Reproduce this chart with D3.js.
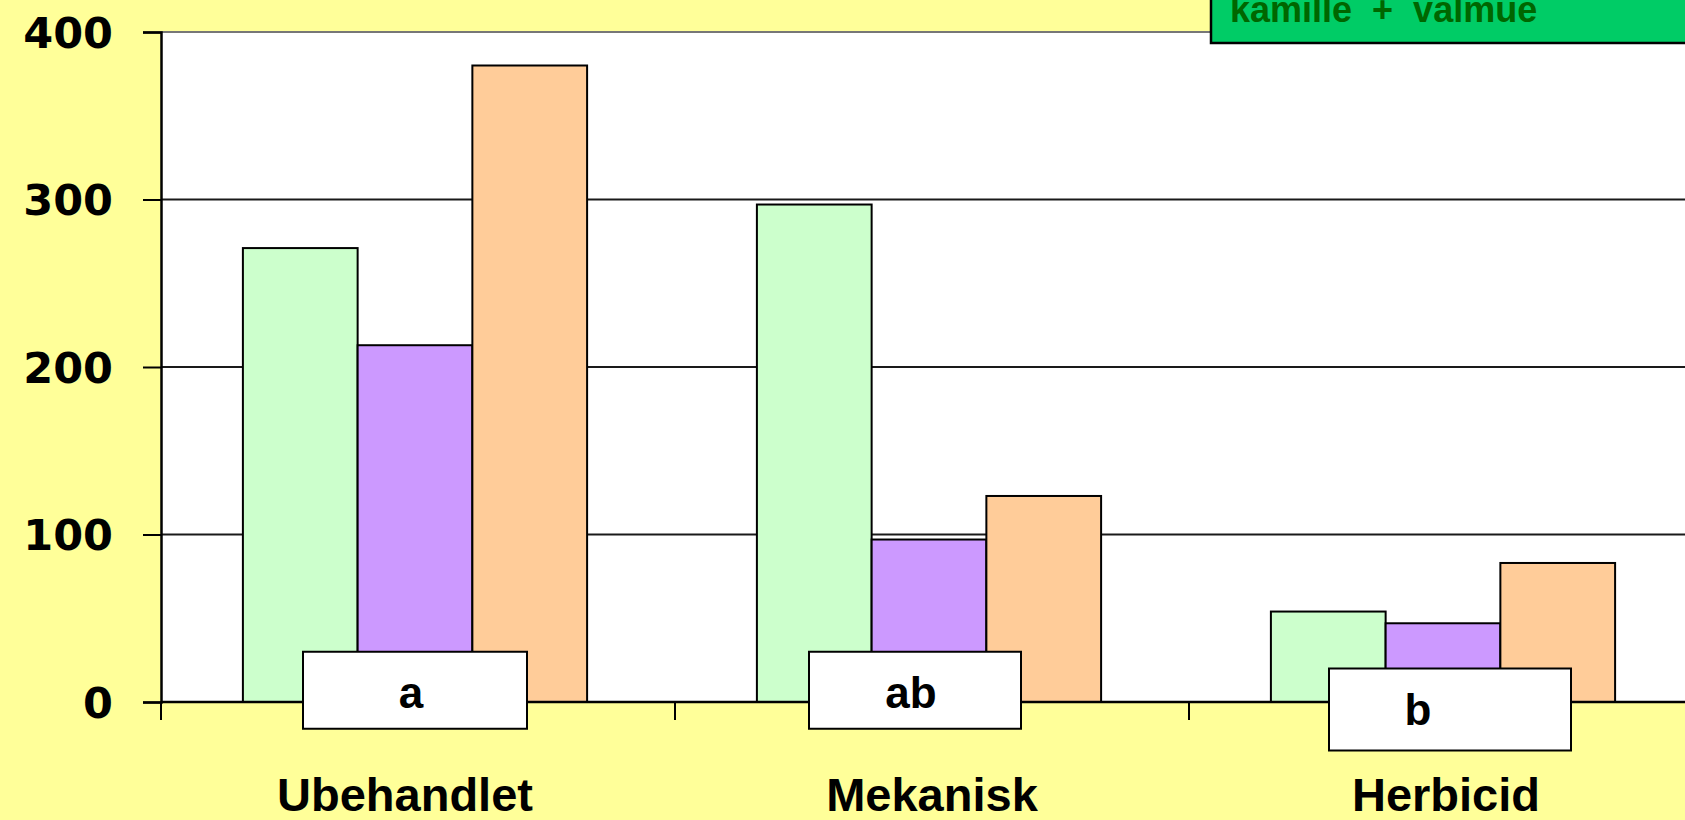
<!DOCTYPE html>
<meta charset="utf-8">
<style>
body { margin: 0; background: #ffff99; overflow: hidden; }
svg { display: block; font-family: "Liberation Sans", Arial, sans-serif; font-weight: bold; }
.bar { stroke: #000; stroke-width: 2; }
.grid line { stroke-width: 2; }
</style>
<body>
<svg width="1685" height="820"></svg>
<script src="https://d3js.org/d3.v7.min.js"></script>
<script>

var categories = ["Ubehandlet", "Mekanisk", "Herbicid"],
    series = ["s1", "s2", "s3"],
    colors = ["#ccffcc", "#cc99ff", "#ffcc99"];

// values per series, one per category
var s1 = [271, 297, 54],
    s2 = [213, 97, 47],
    s3 = [380, 123, 83];

var yTicks = [0, 100, 200, 300, 400];

// significance letters
var letters = ["a", "ab", "b"],
    letterBase = [30, 30, 20],   // box top in data units
    letterShift = [-3, -17, 4],
    letterBoxW = [224, 212, 242];

var legendText = "kamille  +  valmue";

var svg = d3.select("svg"),
    margin = {top: 32, left: 161, bottom: 118},
    height = +svg.attr("height") - margin.top - margin.bottom,
    step = 514;

var x0 = d3.scaleBand().domain(categories)
    .range([margin.left, margin.left + step * categories.length]);
var x1 = d3.scaleBand().domain(series)
    .range([-3, x0.bandwidth() - 3]).paddingOuter(0.74);
var y = d3.scaleLinear().domain([0, 400]).range([margin.top + height, margin.top]);

var data = categories.map(function(c, i) {
  return {cat: c, vals: [s1[i], s2[i], s3[i]]};
});

// plot area
svg.append("rect")
    .attr("x", margin.left).attr("y", y(400))
    .attr("width", 1685 - margin.left).attr("height", y(0) - y(400))
    .attr("fill", "#fff");

var grid = svg.append("g").attr("class", "grid");
grid.selectAll("line").data(yTicks.filter(function(d) { return d > 0; }))
  .enter().append("line")
    .attr("x1", margin.left).attr("x2", 1685)
    .attr("y1", function(d) { return y(d); }).attr("y2", function(d) { return y(d); })
    .style("stroke", function(d) { return d == 400 ? "#777" : "#1a1a1a"; });

var g = svg.selectAll(".grp").data(data).enter().append("g")
    .attr("transform", function(d) { return "translate(" + x0(d.cat) + ",0)"; });

g.selectAll("rect").data(function(d) { return d.vals; })
  .enter().append("rect")
    .attr("class", "bar")
    .attr("x", function(d, i) { return x1(series[i]); })
    .attr("y", function(d) { return y(d); })
    .attr("width", x1.bandwidth())
    .attr("height", function(d) { return y(0) - y(d); })
    .attr("fill", function(d, i) { return colors[i]; });

// y axis
var yAxis = svg.append("g")
    .attr("transform", "translate(" + margin.left + ",0)")
    .call(d3.axisLeft(y).tickValues(yTicks).tickSize(18).tickPadding(30));
yAxis.select(".domain").attr("stroke", "#000").attr("stroke-width", 2.5);
yAxis.selectAll(".tick line").attr("stroke", "#000").attr("stroke-width", 2);
yAxis.selectAll("text")
    .attr("fill", "#000")
    .style("font-family", "'DejaVu Sans', Verdana, sans-serif")
    .style("font-size", "43px").style("font-weight", "bold")
    .attr("dy", "0.36em");

// x axis
var xAxis = svg.append("g")
    .attr("transform", "translate(0," + y(0) + ")");
xAxis.append("line")
    .attr("x1", margin.left).attr("x2", 1685)
    .attr("stroke", "#000").attr("stroke-width", 2.5);
xAxis.selectAll(".tk").data(categories).enter().append("line")
    .attr("x1", function(d) { return x0(d); }).attr("x2", function(d) { return x0(d); })
    .attr("y1", 0).attr("y2", 18)
    .attr("stroke", "#000").attr("stroke-width", 2);
xAxis.selectAll("text").data(categories).enter().append("text")
    .attr("x", function(d, i) { return x0(d) + x0.bandwidth() / 2 + (i == 0 ? -13 : 0); })
    .attr("y", 109)
    .attr("text-anchor", "middle")
    .style("font-size", "47px")
    .text(function(d) { return d; });

// letter boxes
var lb = svg.selectAll(".lbox").data(letters).enter().append("g");
lb.append("rect")
    .attr("x", function(d, i) { return x0(categories[i]) + x0.bandwidth() / 2 + letterShift[i] - letterBoxW[i] / 2; })
    .attr("y", function(d, i) { return y(letterBase[i]); })
    .attr("width", function(d, i) { return letterBoxW[i]; })
    .attr("height", function(d, i) { return i == 2 ? 82 : 77; })
    .attr("fill", "#fff").attr("stroke", "#000").attr("stroke-width", 2);
lb.append("text")
    .attr("x", function(d, i) { return x0(categories[i]) + x0.bandwidth() / 2 + (i == 2 ? -28 : letterShift[i] - 4); })
    .attr("y", function(d, i) { return y(letterBase[i]) + 56; })
    .attr("text-anchor", "middle")
    .style("font-size", "44px")
    .text(function(d) { return d; });

// legend box (cut off at top)
svg.append("rect")
    .attr("x", 1211).attr("y", -10)
    .attr("width", 500).attr("height", 53)
    .attr("fill", "#00cc66").attr("stroke", "#000").attr("stroke-width", 2.5);
svg.append("text")
    .attr("x", 1230).attr("y", 22)
    .attr("xml:space", "preserve")
    .style("white-space", "pre")
    .style("font-size", "36px")
    .attr("fill", "#006600")
    .text(legendText);

</script>
</body>
